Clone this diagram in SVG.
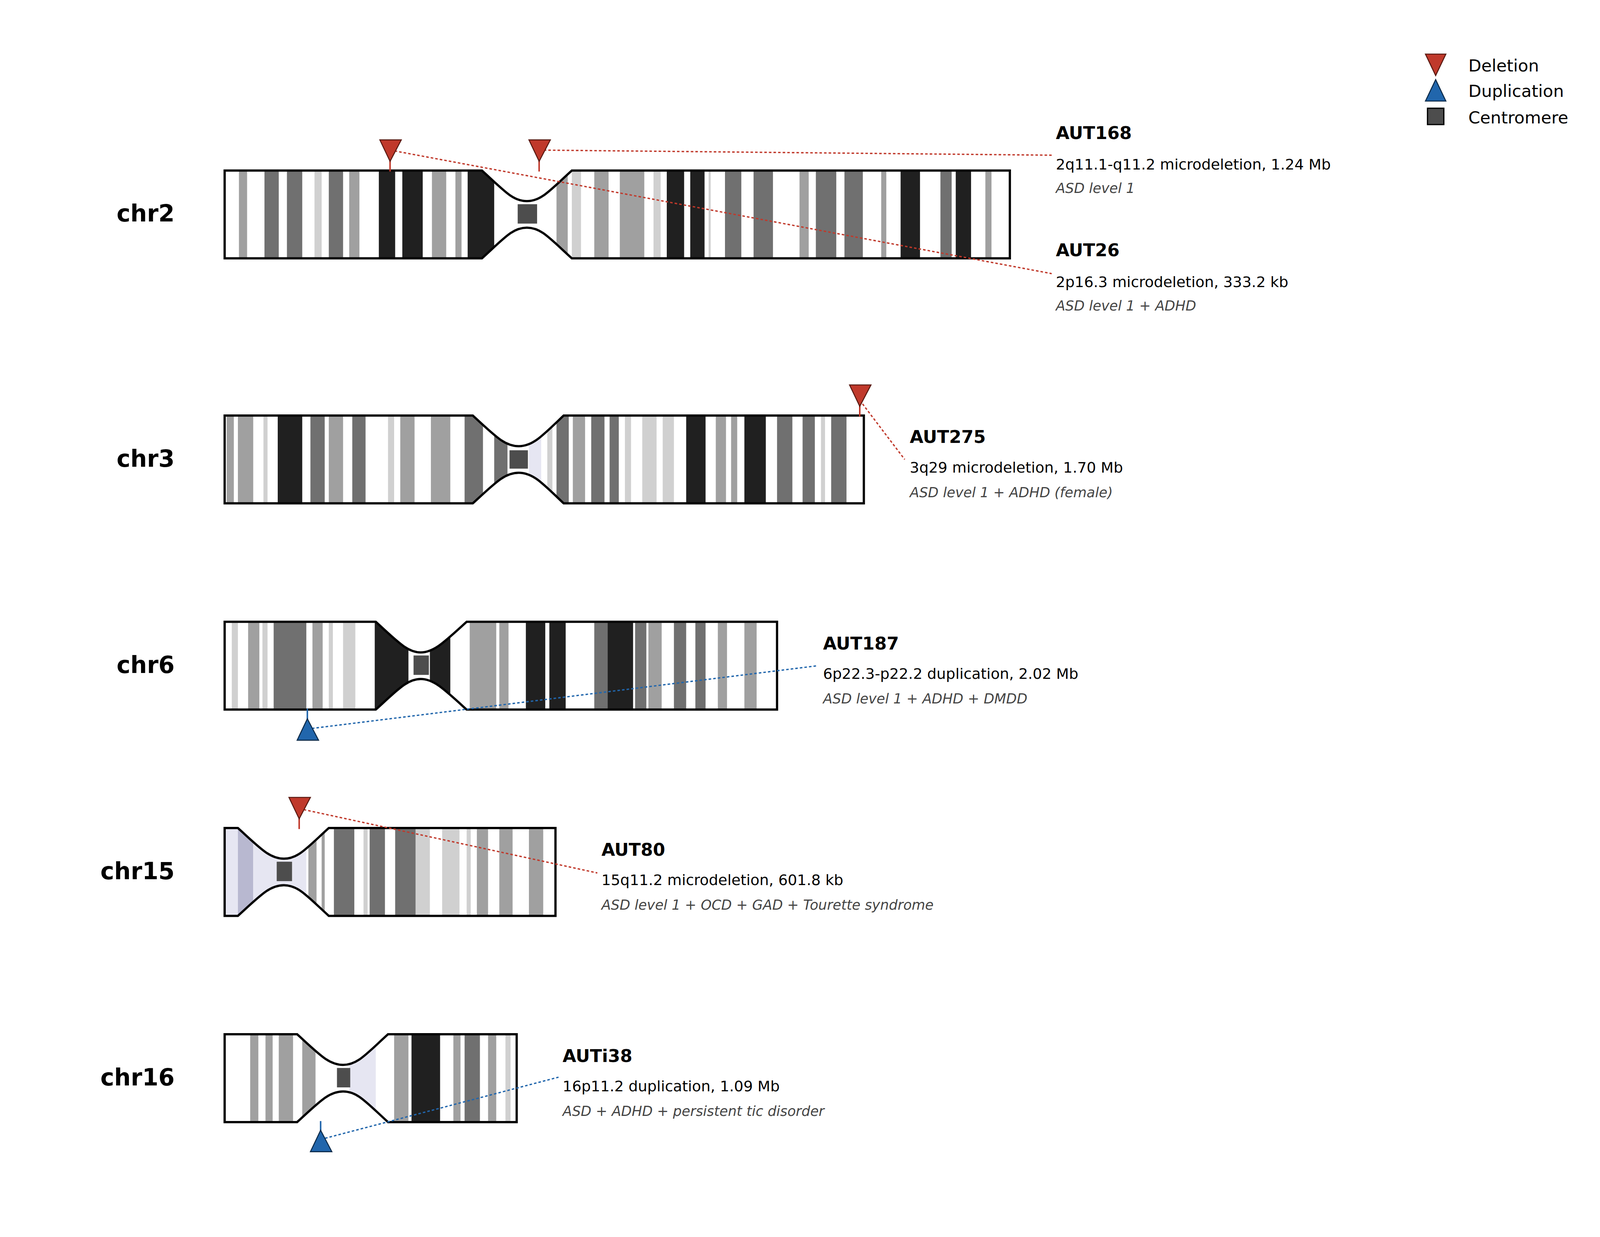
<svg xmlns="http://www.w3.org/2000/svg" width="4209" height="3167" viewBox="0 0 4209 3167">
<style>
.k{fill:#202020}.d{fill:#707070}.m{fill:#a0a0a0}.l{fill:#d0d0d0}.p{fill:#e6e6f2}.q{fill:#b8b8d0}
.ol{fill:none;stroke:#000;stroke-width:2.2;stroke-linejoin:miter}
.cen{fill:#4d4d4d}
.chr{font-family:"DejaVu Sans",sans-serif;font-weight:bold;font-size:22.8px;text-anchor:end}
.t1{font-family:"DejaVu Sans",sans-serif;font-weight:bold;font-size:17.2px}
.t2{font-family:"DejaVu Sans",sans-serif;font-size:14.5px}
.t3{font-family:"DejaVu Sans",sans-serif;font-style:italic;font-size:13.5px;fill:#444}
.lg{font-family:"DejaVu Sans",sans-serif;font-size:16.5px}
.del{fill:#c0392b;stroke:#5a1a12;stroke-width:1}
.dup{fill:#2166ac;stroke:#0d2b4a;stroke-width:1}
.rs{stroke:#c0392b;stroke-width:1.5}
.bs{stroke:#2166ac;stroke-width:1.5}
.rd{stroke:#c0392b;stroke-width:1.3;stroke-dasharray:2.5 2;fill:none}
.bd{stroke:#2166ac;stroke-width:1.3;stroke-dasharray:2.5 2;fill:none}
</style>
<defs>
<clipPath id="c2"><path d="M220,167 H472 C494,187 502,197 516,197 C530,197 538,187 560,167 H989 V253 H560 C538,233 530,223 516,223 C502,223 494,233 472,253 H220 Z"/></clipPath>
<clipPath id="c3"><path d="M220,407 H463 C485,427 494,437 508,437 C522,437 531,427 552,407 H846 V493 H552 C531,473 522,463 508,463 C494,463 485,473 463,493 H220 Z"/></clipPath>
<clipPath id="c6"><path d="M220,609 H368 C390,629 399,639 412,639 C425,639 435,629 457,609 H761 V695 H457 C435,675 425,665 412,665 C399,665 390,675 368,695 H220 Z"/></clipPath>
<clipPath id="c15"><path d="M220,811 H233 C255,831 264,841 278,841 C292,841 300,831 322,811 H544 V897 H322 C300,877 292,867 278,867 C264,867 255,877 233,897 H220 Z"/></clipPath>
<clipPath id="c16"><path d="M220,1013 H291 C313,1033 322,1043 336,1043 C350,1043 358,1033 380,1013 H506 V1099 H380 C358,1079 350,1069 336,1069 C322,1069 313,1079 291,1099 H220 Z"/></clipPath>
</defs>
<rect width="4209" height="3167" fill="#fff"/>
<g transform="scale(2.614)">
<g id="chr2">
<text class="chr" x="171" y="217">chr2</text>
<g clip-path="url(#c2)">
<rect x="220" y="167" width="769" height="86" fill="#fff"/>
<g transform="translate(0,167)">
<rect class="m" x="234" width="8" height="86"/><rect class="d" x="259" width="14" height="86"/><rect class="d" x="281" width="15" height="86"/><rect class="l" x="308" width="7" height="86"/><rect class="d" x="322" width="14" height="86"/><rect class="m" x="342" width="10" height="86"/><rect class="k" x="371" width="16" height="86"/><rect class="k" x="394" width="20" height="86"/><rect class="m" x="423" width="14" height="86"/><rect class="m" x="446" width="6" height="86"/><rect class="k" x="458" width="26" height="86"/>
<rect class="m" x="545" width="11" height="86"/><rect class="l" x="560" width="9" height="86"/><rect class="m" x="582" width="14" height="86"/><rect class="m" x="607" width="24" height="86"/><rect class="l" x="640" width="7" height="86"/><rect class="k" x="653" width="17" height="86"/><rect class="k" x="676" width="14" height="86"/><rect class="l" x="694" width="2" height="86"/><rect class="d" x="710" width="16" height="86"/><rect class="d" x="738" width="19" height="86"/><rect class="m" x="783" width="9" height="86"/><rect class="d" x="799" width="20" height="86"/><rect class="d" x="827" width="18" height="86"/><rect class="m" x="863" width="5" height="86"/><rect class="k" x="882" width="19" height="86"/><rect class="d" x="921" width="11" height="86"/><rect class="k" x="936" width="15" height="86"/><rect class="m" x="965" width="6" height="86"/>
</g></g>
<path class="ol" d="M220,167 H472 C494,187 502,197 516,197 C530,197 538,187 560,167 H989 V253 H560 C538,233 530,223 516,223 C502,223 494,233 472,253 H220 Z"/>
<rect class="cen" x="507" y="200" width="19" height="19"/>
</g>
<g id="chr3">
<text class="chr" x="171" y="457">chr3</text>
<g clip-path="url(#c3)">
<rect x="220" y="407" width="626" height="86" fill="#fff"/>
<g transform="translate(0,407)">
<rect class="m" x="222" width="7" height="86"/><rect class="m" x="233" width="15" height="86"/><rect class="l" x="258" width="4" height="86"/><rect class="k" x="272" width="24" height="86"/><rect class="d" x="304" width="14" height="86"/><rect class="m" x="322" width="14" height="86"/><rect class="d" x="345" width="13" height="86"/><rect class="l" x="380" width="6" height="86"/><rect class="m" x="392" width="14" height="86"/><rect class="m" x="422" width="19" height="86"/><rect class="d" x="455" width="18" height="86"/><rect class="d" x="484" width="13" height="86"/><rect class="p" x="518" width="12" height="86"/><rect class="l" x="536" width="5" height="86"/><rect class="d" x="545" width="12" height="86"/><rect class="m" x="561" width="12" height="86"/><rect class="d" x="579" width="13" height="86"/><rect class="d" x="597" width="9" height="86"/><rect class="l" x="612" width="6" height="86"/><rect class="l" x="629" width="14" height="86"/><rect class="l" x="649" width="11" height="86"/><rect class="k" x="672" width="19" height="86"/><rect class="m" x="701" width="10" height="86"/><rect class="m" x="716" width="6" height="86"/><rect class="k" x="729" width="21" height="86"/><rect class="d" x="761" width="15" height="86"/><rect class="d" x="786" width="12" height="86"/><rect class="l" x="804" width="4" height="86"/><rect class="d" x="814" width="15" height="86"/>
</g></g>
<path class="ol" d="M220,407 H463 C485,427 494,437 508,437 C522,437 531,427 552,407 H846 V493 H552 C531,473 522,463 508,463 C494,463 485,473 463,493 H220 Z"/>
<rect class="cen" x="499" y="441" width="18" height="18"/>
</g>
<g id="chr6">
<text class="chr" x="171" y="659">chr6</text>
<g clip-path="url(#c6)">
<rect x="220" y="609" width="541" height="86" fill="#fff"/>
<g transform="translate(0,609)">
<rect class="l" x="227" width="6" height="86"/><rect class="m" x="243" width="11" height="86"/><rect class="l" x="257" width="5" height="86"/><rect class="d" x="268" width="32" height="86"/><rect class="m" x="306" width="10" height="86"/><rect class="l" x="322" width="4" height="86"/><rect class="l" x="336" width="12" height="86"/><rect class="k" x="367" width="33" height="86"/><rect class="k" x="421" width="20" height="86"/><rect class="m" x="460" width="26" height="86"/><rect class="m" x="489" width="9" height="86"/><rect class="k" x="515" width="19" height="86"/><rect class="k" x="538" width="16" height="86"/><rect class="d" x="582" width="13" height="86"/><rect class="k" x="595" width="25" height="86"/><rect class="d" x="622" width="11" height="86"/><rect class="m" x="635" width="13" height="86"/><rect class="d" x="660" width="12" height="86"/><rect class="d" x="681" width="10" height="86"/><rect class="m" x="703" width="9" height="86"/><rect class="m" x="729" width="12" height="86"/>
</g></g>
<path class="ol" d="M220,609 H368 C390,629 399,639 412,639 C425,639 435,629 457,609 H761 V695 H457 C435,675 425,665 412,665 C399,665 390,675 368,695 H220 Z"/>
<rect class="cen" x="405" y="642" width="15" height="19"/>
</g>
<g id="chr15">
<text class="chr" x="171" y="861">chr15</text>
<g clip-path="url(#c15)">
<rect x="220" y="811" width="324" height="86" fill="#fff"/>
<g transform="translate(0,811)">
<rect class="p" x="220" width="13" height="86"/><rect class="q" x="233" width="15" height="86"/><rect class="p" x="248" width="52" height="86"/><rect class="m" x="302" width="8" height="86"/><rect class="m" x="315" width="3" height="86"/><rect class="d" x="327" width="20" height="86"/><rect class="l" x="356" width="4" height="86"/><rect class="d" x="362" width="15" height="86"/><rect class="d" x="387" width="20" height="86"/><rect class="l" x="407" width="14" height="86"/><rect class="l" x="433" width="17" height="86"/><rect class="l" x="457" width="4" height="86"/><rect class="m" x="467" width="11" height="86"/><rect class="m" x="489" width="13" height="86"/><rect class="m" x="518" width="14" height="86"/>
</g></g>
<path class="ol" d="M220,811 H233 C255,831 264,841 278,841 C292,841 300,831 322,811 H544 V897 H322 C300,877 292,867 278,867 C264,867 255,877 233,897 H220 Z"/>
<rect class="cen" x="271" y="844" width="15" height="19"/>
</g>
<g id="chr16">
<text class="chr" x="171" y="1063">chr16</text>
<g clip-path="url(#c16)">
<rect x="220" y="1013" width="286" height="86" fill="#fff"/>
<g transform="translate(0,1013)">
<rect class="m" x="245" width="8" height="86"/><rect class="m" x="260" width="7" height="86"/><rect class="m" x="273" width="14" height="86"/><rect class="m" x="296" width="13" height="86"/><rect class="p" x="342" width="26" height="86"/><rect class="m" x="386" width="14" height="86"/><rect class="k" x="403" width="28" height="86"/><rect class="m" x="444" width="7" height="86"/><rect class="d" x="455" width="15" height="86"/><rect class="m" x="478" width="8" height="86"/><rect class="l" x="495" width="5" height="86"/>
</g></g>
<path class="ol" d="M220,1013 H291 C313,1033 322,1043 336,1043 C350,1043 358,1033 380,1013 H506 V1099 H380 C358,1079 350,1069 336,1069 C322,1069 313,1079 291,1099 H220 Z"/>
<rect class="cen" x="330" y="1046" width="13" height="19"/>
</g>
<g id="connectors">
<path class="rd" d="M528,147 L1030,152"/>
<path class="rd" d="M382,147 L1030,268"/>
<path class="rd" d="M842,392 L886,450"/>
<path class="bd" d="M301,714 L801,652"/>
<path class="rd" d="M293,792 L585,855"/>
<path class="bd" d="M314,1116 L547,1055"/>
</g>
<g id="markers">
<line class="rs" x1="382" y1="155" x2="382" y2="168"/><path class="del" d="M372,137 H393 L382,158 Z"/>
<line class="rs" x1="528" y1="155" x2="528" y2="168"/><path class="del" d="M518,137 H539 L528,158 Z"/>
<line class="rs" x1="842" y1="395" x2="842" y2="408"/><path class="del" d="M832,377 H853 L842,398 Z"/>
<line class="rs" x1="293" y1="799" x2="293" y2="812"/><path class="del" d="M283,781 H304 L293,802 Z"/>
<line class="bs" x1="301" y1="694" x2="301" y2="708"/><path class="dup" d="M291,725 H312 L301,704 Z"/>
<line class="bs" x1="314" y1="1098" x2="314" y2="1111"/><path class="dup" d="M304,1128 H325 L314,1107 Z"/>
</g>
<g id="labels">
<text class="t1" x="1034" y="136">AUT168</text>
<text class="t2" x="1034" y="166">2q11.1-q11.2 microdeletion, 1.24 Mb</text>
<text class="t3" x="1034" y="189">ASD level 1</text>
<text class="t1" x="1034" y="251">AUT26</text>
<text class="t2" x="1034" y="281">2p16.3 microdeletion, 333.2 kb</text>
<text class="t3" x="1034" y="304">ASD level 1 + ADHD</text>
<text class="t1" x="891" y="434">AUT275</text>
<text class="t2" x="891" y="463">3q29 microdeletion, 1.70 Mb</text>
<text class="t3" x="891" y="487">ASD level 1 + ADHD (female)</text>
<text class="t1" x="806" y="636">AUT187</text>
<text class="t2" x="806" y="665">6p22.3-p22.2 duplication, 2.02 Mb</text>
<text class="t3" x="806" y="689">ASD level 1 + ADHD + DMDD</text>
<text class="t1" x="589" y="838">AUT80</text>
<text class="t2" x="589" y="867">15q11.2 microdeletion, 601.8 kb</text>
<text class="t3" x="589" y="891">ASD level 1 + OCD + GAD + Tourette syndrome</text>
<text class="t1" x="551" y="1040">AUTi38</text>
<text class="t2" x="551" y="1069">16p11.2 duplication, 1.09 Mb</text>
<text class="t3" x="551" y="1093">ASD + ADHD + persistent tic disorder</text>
</g>
<g id="legend">
<path class="del" d="M1396,53 H1416 L1406,74 Z"/>
<path class="dup" d="M1396,99 H1416 L1406,78 Z"/>
<rect x="1398" y="106" width="16" height="16" fill="#4d4d4d" stroke="#000" stroke-width="1.2"/>
<text class="lg" x="1438" y="70">Deletion</text>
<text class="lg" x="1438" y="95">Duplication</text>
<text class="lg" x="1438" y="121">Centromere</text>
</g>
</g>
</svg>
